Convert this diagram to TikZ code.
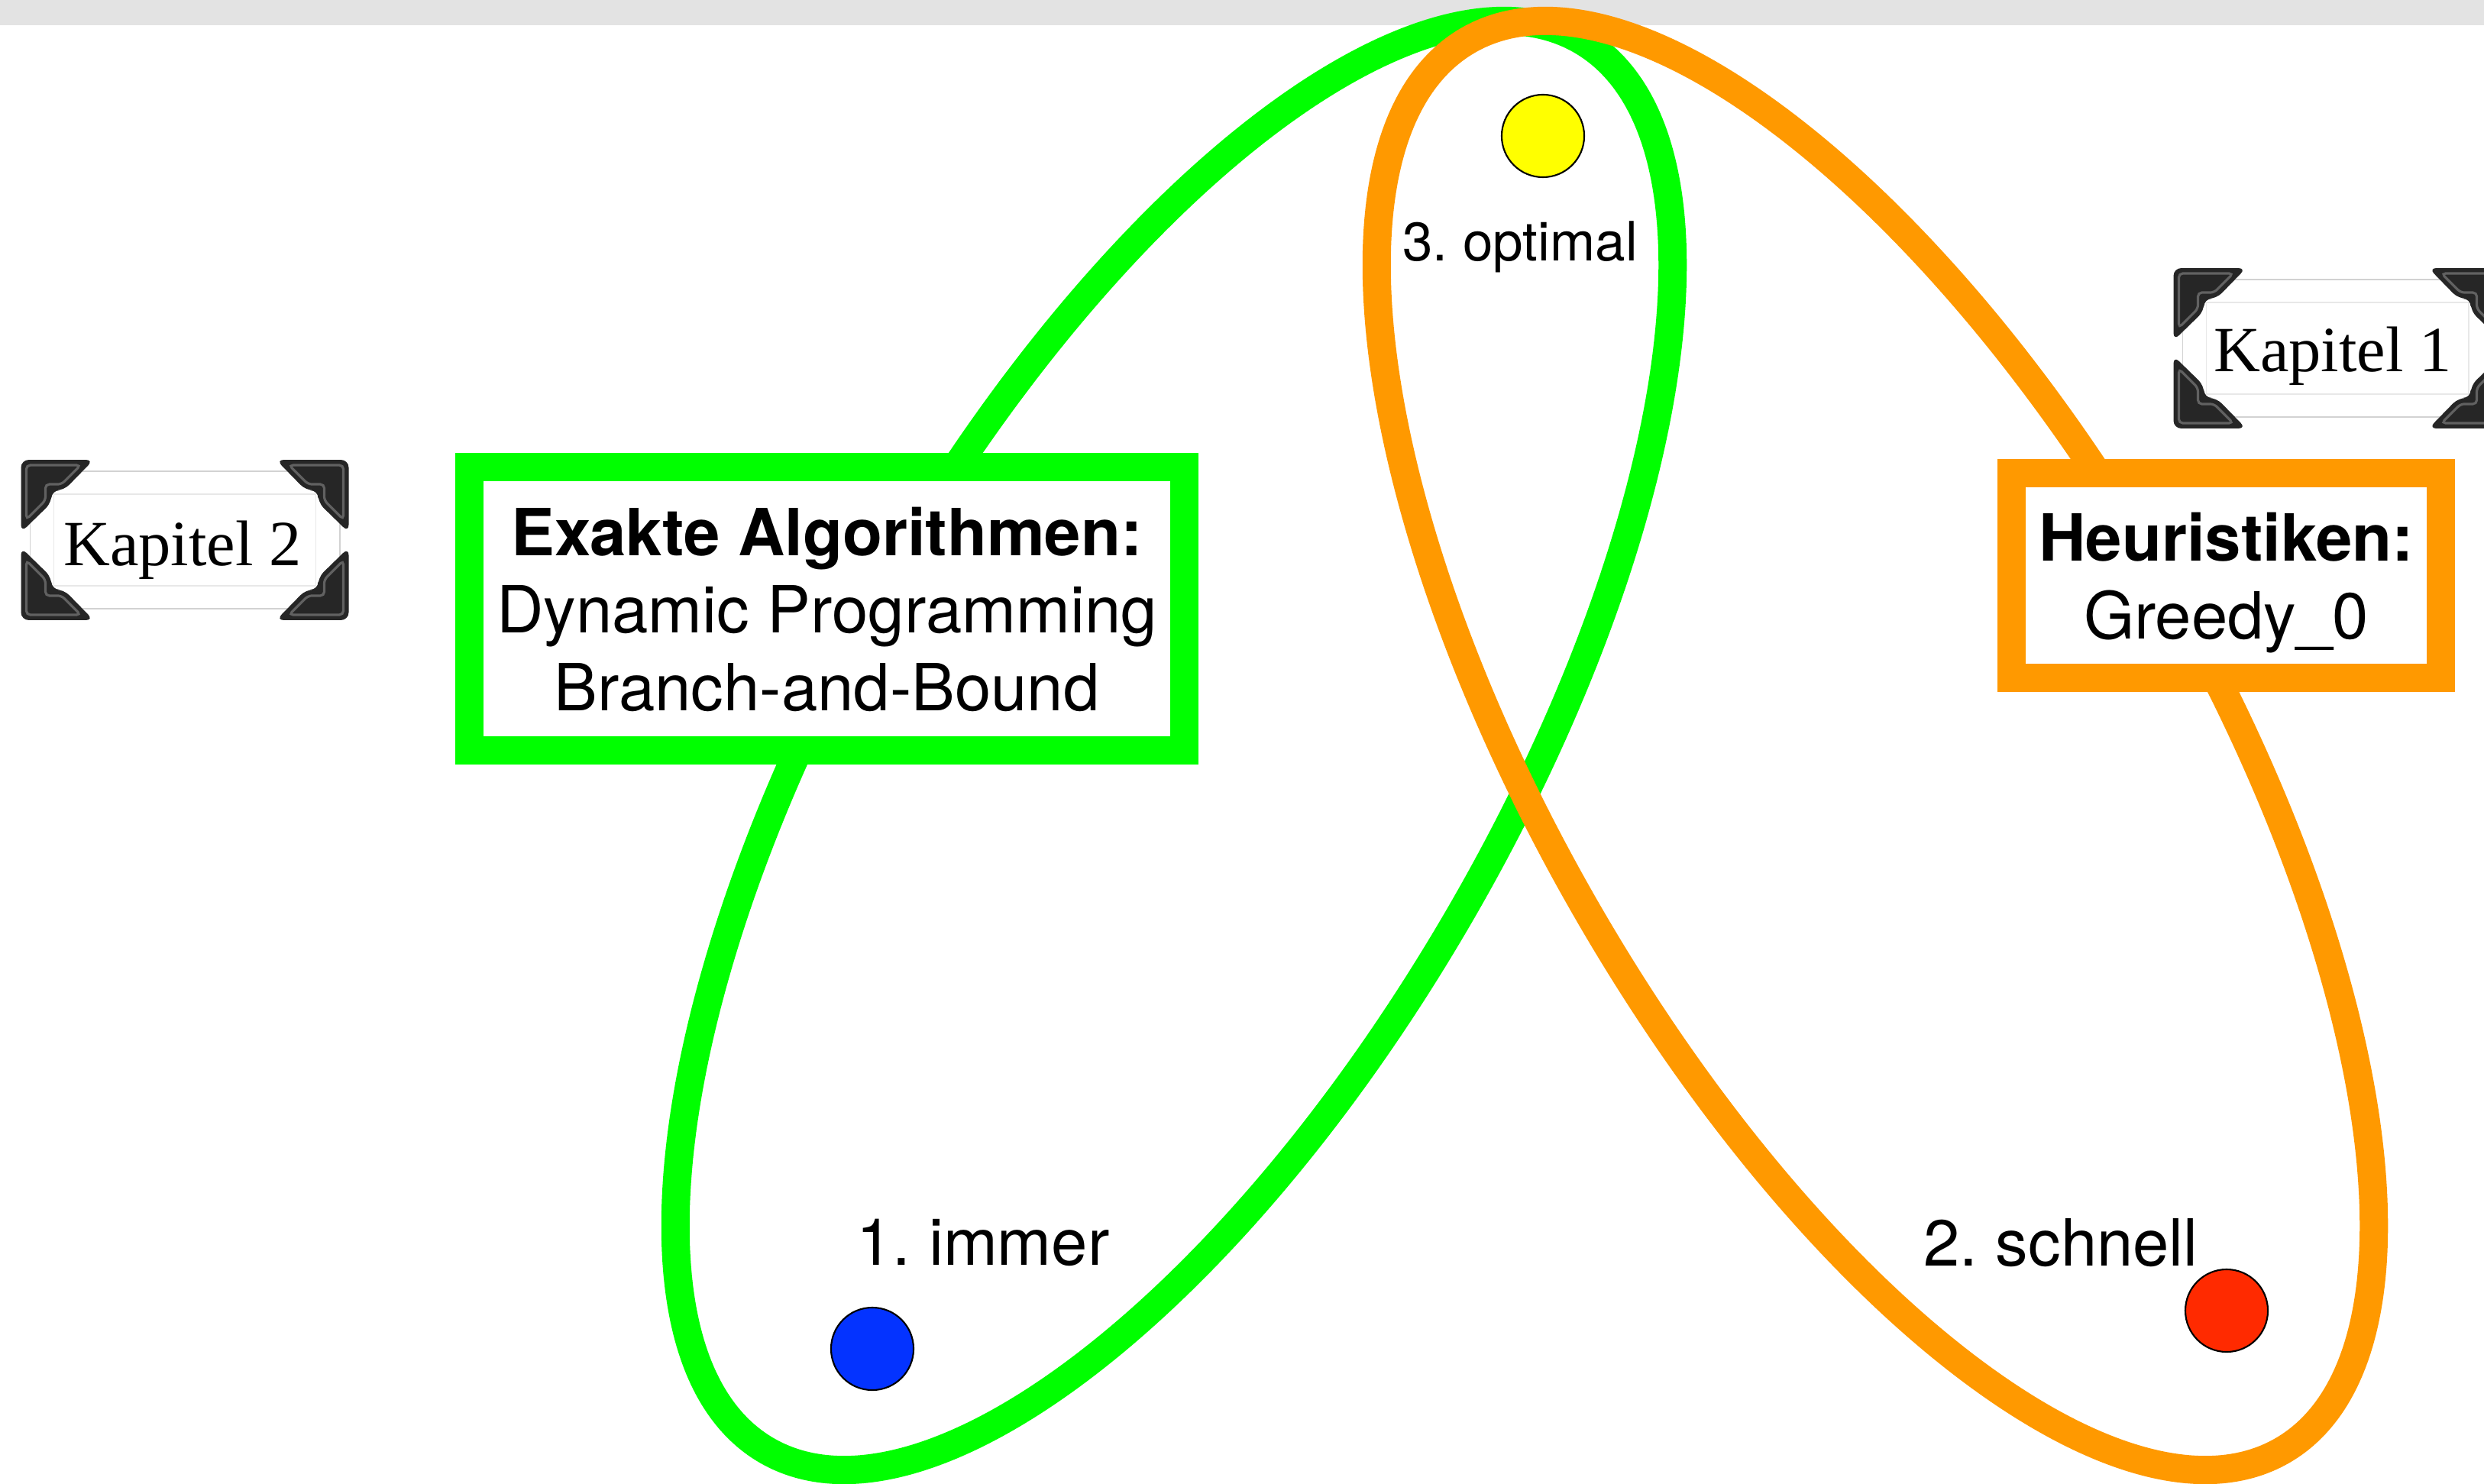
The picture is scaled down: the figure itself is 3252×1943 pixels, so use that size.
\documentclass[tikz,border=0pt]{standalone}
\usepackage{fontspec}
\setmainfont{TeX Gyre Heros}
\newfontfamily\kapfont{Liberation Serif}
\usetikzlibrary{positioning}

\definecolor{exaktgreen}{HTML}{00FF00}
\definecolor{heurorange}{HTML}{FF9900}
\definecolor{immerblue}{HTML}{0433FF}
\definecolor{schnellred}{HTML}{FF2A00}
\definecolor{optyellow}{HTML}{FFFF00}
\definecolor{topbar}{HTML}{E3E3E3}

\begin{document}
\frenchspacing
\begin{tikzpicture}[
    x=0.01cm, y=-0.01cm,                % one unit = one pixel, y pointing down
    ring/.style={line width=3.7mm},     % the two big ellipses
    algobox/.style={draw, line width=3.7mm, fill=white, align=center,
                    text depth=0pt, font=\fontsize{24.2pt}{28.9pt}\selectfont},
    dot/.style={circle, draw=black, line width=0.6pt,
                minimum size=10.8mm, inner sep=0pt},
    dotlabel/.style={anchor=base, inner sep=0pt,
                     font=\fontsize{24.2pt}{28.9pt}\selectfont},
    kapframe/.style={draw=gray!35, line width=0.5pt, fill=white,
                     minimum width=40.5mm, minimum height=18mm, inner sep=0pt},
    kapinner/.style={draw=gray!18, line width=0.5pt,
                     minimum width=34.3mm, minimum height=12mm, inner sep=0pt},
    kaptext/.style={anchor=base, inner sep=0pt,
                    font=\kapfont\fontsize{24pt}{28pt}\selectfont},
    photocorner/.pic={
      \fill[black!85, rounded corners=1mm]
        (0,0) -- (95,0) -- (56,40) -- (40,40) -- (40,56) -- (0,95) -- cycle;
      \draw[black!62, line width=0.9pt, rounded corners=0.5mm]
        (7,7) -- (78,7) -- (53,32) -- (32,32) -- (32,53) -- (7,78) -- cycle;
    }
  ]
  \useasboundingbox (0,0) rectangle (3252,1943);
  \clip (0,0) rectangle (3252,1943);

  \fill[topbar] (0,0) rectangle (3252,33);

  % the two sets
  \draw[ring, exaktgreen] (1537,976) ellipse [x radius=1066, y radius=435, rotate=60];
  \draw[ring, heurorange] (2455,976) ellipse [x radius=1066, y radius=435, rotate=-60];

  % boxes
  \node[algobox, draw=exaktgreen, minimum width=93.6mm, minimum height=37mm]
    (exakt) at (1082.5,797)
    {\textbf{Exakte Algorithmen:}\\Dynamic Programming\\Branch-and-Bound};
  \node[algobox, draw=heurorange, minimum width=56.2mm, minimum height=26.8mm]
    (heur) at (2914.5,753.5) {\textbf{Heuristiken:}\\Greedy\_0};

  % points
  \node[dot, fill=optyellow] (optdot) at (2020,178) {};
  \node[dot, fill=immerblue] (immerdot) at (1142,1766) {};
  \node[dot, fill=schnellred] (schnelldot) at (2915,1716) {};

  \node[dotlabel, font=\fontsize{20.2pt}{24pt}\selectfont] (optlabel) at (1990,342) {3. optimal};
  \node[dotlabel] (immerlabel) at (1287,1656) {1. immer};
  \node[dotlabel] (schnelllabel) at (2698,1657) {2. schnell};

  % chapter tags
  \node[kapframe] (kap2) at (242,707) {};
  \node[kapinner] (kap2inner) at (kap2.center) {};
  \node[kaptext] (kap2text) at ([shift={(-3,33)}]kap2.center) {Kapitel 2};
  \foreach \anc/\sx/\sy/\dx/\dy in {north west/1/1/-11/-14, north east/-1/1/11/-14,
                                    south west/1/-1/-11/14, south east/-1/-1/11/14}
    \pic[xscale=\sx, yscale=\sy] at ([shift={(\dx,\dy)}]kap2.\anc) {photocorner};

  \node[kapframe] (kap1) at (3060,456) {};
  \node[kapinner] (kap1inner) at (kap1.center) {};
  \node[kaptext] (kap1text) at ([shift={(-6,31)}]kap1.center) {Kapitel 1};
  \foreach \anc/\sx/\sy/\dx/\dy in {north west/1/1/-11/-14, north east/-1/1/11/-14,
                                    south west/1/-1/-11/14, south east/-1/-1/11/14}
    \pic[xscale=\sx, yscale=\sy] at ([shift={(\dx,\dy)}]kap1.\anc) {photocorner};
\end{tikzpicture}
\end{document}
